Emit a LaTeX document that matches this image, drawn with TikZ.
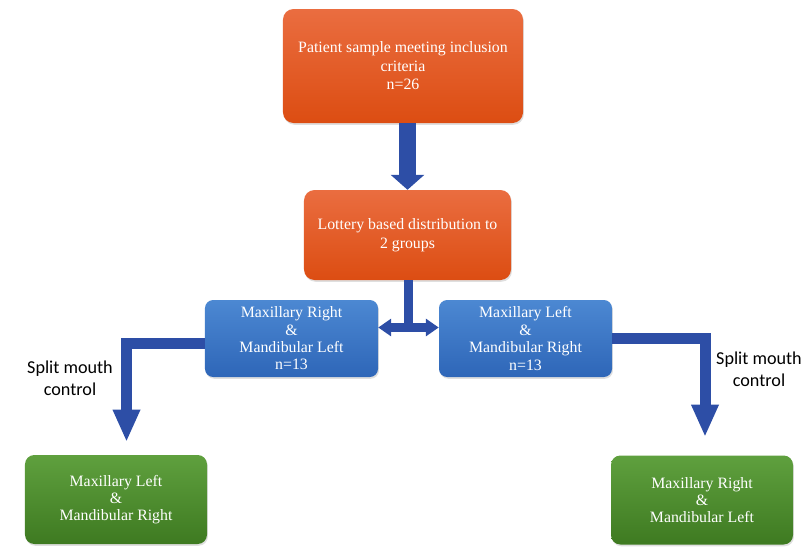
\documentclass[tikz,border=0pt]{standalone}
\usepackage{fontspec}
\setmainfont{Liberation Serif}
\newfontfamily\labelfont{Carlito}
\usetikzlibrary{arrows.meta,shadows}
\definecolor{orangetop}{HTML}{EA6D40}
\definecolor{orangebot}{HTML}{DC4D12}
\definecolor{bluetop}{HTML}{4C88D2}
\definecolor{bluebot}{HTML}{2E66B8}
\definecolor{greentop}{HTML}{5FA03E}
\definecolor{greenbot}{HTML}{3E7A21}
\definecolor{arrowblue}{HTML}{2D4EA6}
\begin{document}
\begin{tikzpicture}[x=0.03cm,y=-0.03cm,line join=miter,
		box/.style={rounded corners=9pt,align=center,text=white,inner sep=2pt,
			font=\fontsize{13.5}{15.8}\selectfont,
			drop shadow={opacity=0.25,shadow xshift=0.8pt,shadow yshift=-1.5pt}},
		orangebox/.style={box,top color=orangetop,bottom color=orangebot},
		bluebox/.style={box,rounded corners=7pt,top color=bluetop,bottom color=bluebot,minimum width=5.19cm,minimum height=2.31cm,font=\fontsize{13.5}{14.8}\selectfont},
		greenbox/.style={box,rounded corners=8pt,top color=greentop,bottom color=greenbot,minimum width=5.46cm,minimum height=2.67cm,font=\fontsize{13.5}{14.6}\selectfont},
		fat/.style={draw=arrowblue,line width=0.51cm,-{Triangle[width=0.99cm,length=0.45cm]}},
		elbow/.style={draw=arrowblue,line width=0.33cm,-{Triangle[width=0.76cm,length=0.97cm]}},
		dbl/.style={draw=arrowblue,line width=0.27cm,{Triangle[width=0.51cm,length=0.39cm]}-{Triangle[width=0.51cm,length=0.39cm]}},
		lbl/.style={align=center,font=\labelfont\fontsize{15.5}{19}\selectfont}]
	\useasboundingbox (0,0) rectangle (804,546);
	% boxes
	\node[orangebox,minimum width=7.2cm,minimum height=3.42cm] (top) at (403,66) {Patient sample meeting inclusion\\criteria\\n=26};
	\node[orangebox,minimum width=6.21cm,minimum height=2.7cm] (lot) at (407.5,235) {Lottery based distribution to\\2 groups};
	\node[bluebox] (bl) at (291.5,338.5) {Maxillary Right\\\&\\Mandibular Left\\n=13};
	\node[bluebox] (br) at (525.5,338.5) {Maxillary Left\\\&\\Mandibular Right\\n=13};
	\node[greenbox] (gl) at (116,499.5) {Maxillary Left\\\&\\Mandibular Right};
	\node[greenbox] (gr) at (702,500) {Maxillary Right\\\&\\Mandibular Left};
	% arrows
	\coordinate (split) at (408.5,327.5);
	\coordinate (tipL) at (126.5,442);
	\coordinate (tipR) at (705,437);
	\draw[fat] (top.south -| lot.north) -- (lot.north);
	\draw[draw=arrowblue,line width=0.27cm] (lot.south -| split) -- (split);
	\draw[dbl] (bl.east |- split) -- (br.west |- split);
	\draw[elbow] ([yshift=-0.15cm]bl.west) -| (tipL);
	\draw[elbow] (br.east) -| (tipR);
	% labels
	\node[lbl] (ctrlL) at (70,378) {Split mouth\\control};
	\node[lbl] (ctrlR) at (759,369) {Split mouth\\control};
\end{tikzpicture}
\end{document}
